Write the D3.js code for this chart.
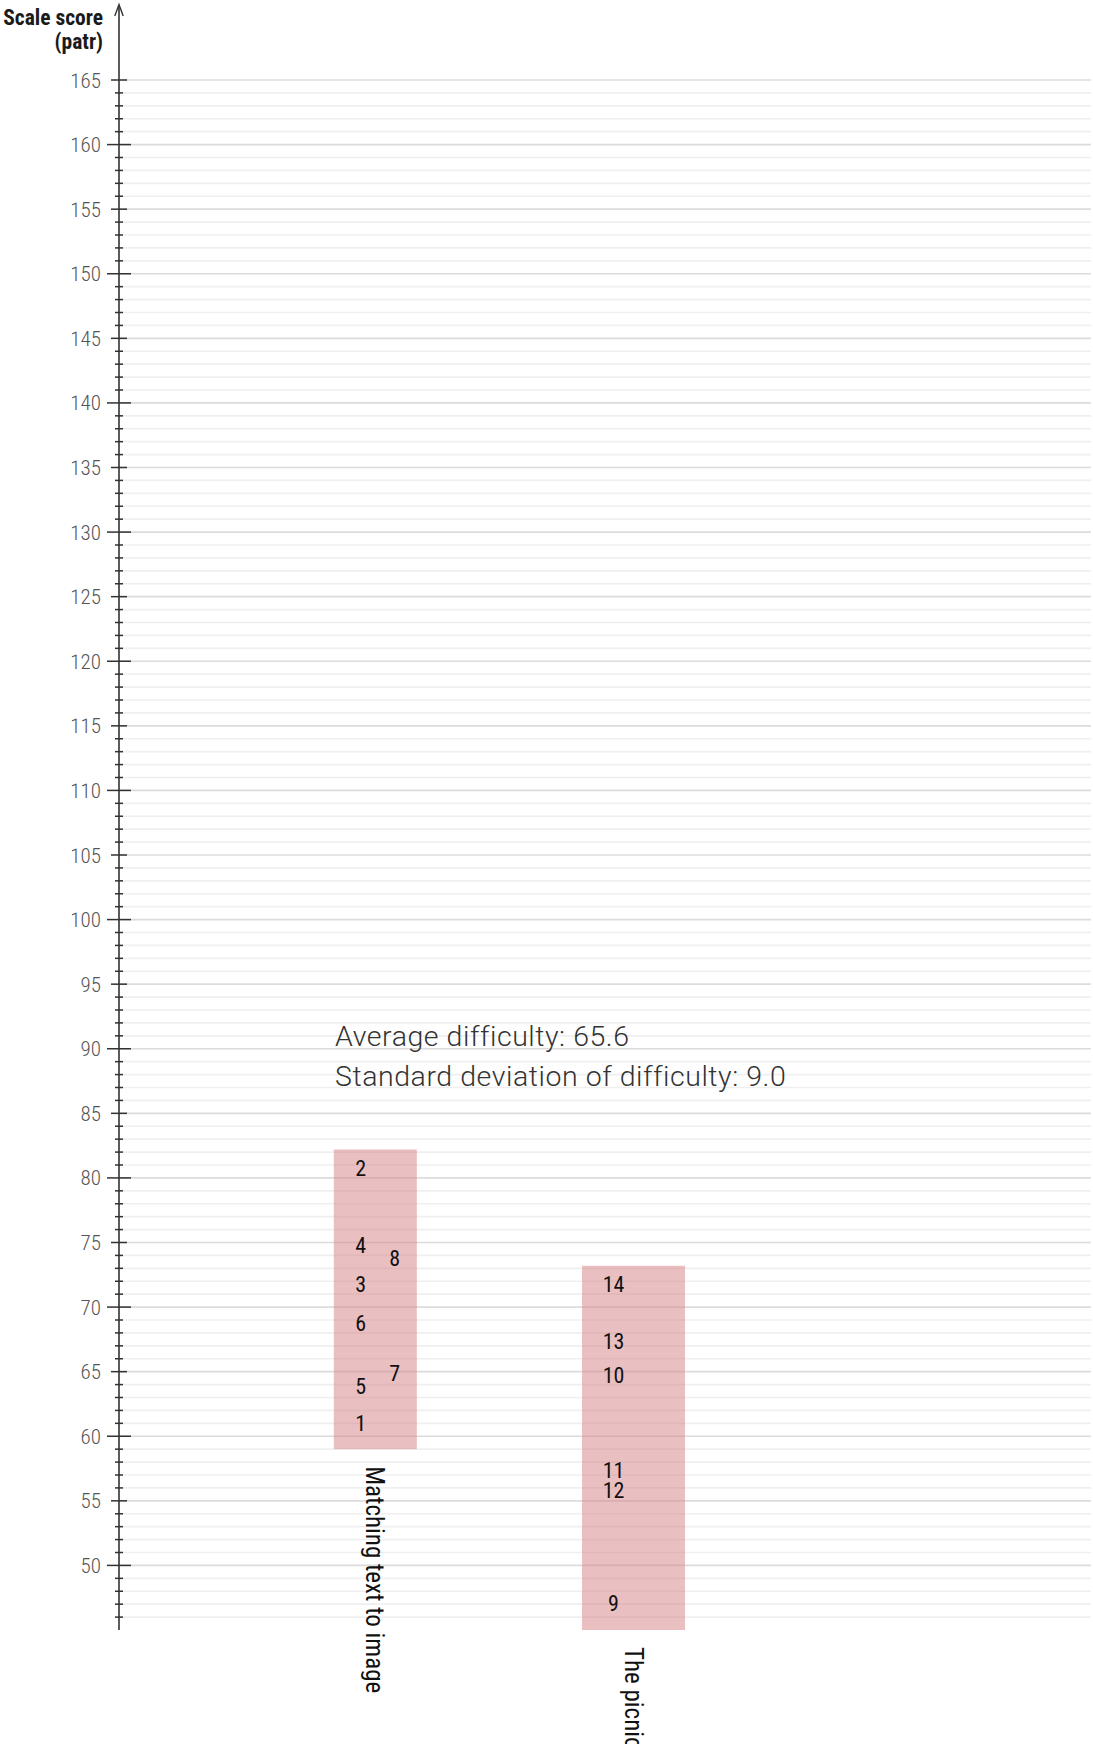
<!DOCTYPE html>
<html>
<head>
<meta charset="utf-8">
<script src="https://cdn.jsdelivr.net/npm/d3@7"></script>
<style>
  html, body { margin: 0; padding: 0; background: #fff; }
  svg { display: block; }
  .cond { font-family: "Liberation Sans Narrow", "Roboto Condensed", "DejaVu Sans Condensed", sans-serif; }
</style>
</head>
<body>
<svg id="chart" width="1093" height="1744"></svg>
<script>
// ---------------- data ----------------
const categories = ["Matching text to image", "The picnic"];
const barLow  = [59.0, 45.0];
const barHigh = [82.2, 73.2];

const itemIds      = [1, 2, 3, 4, 5, 6, 7, 8, 9, 10, 11, 12, 13, 14];
const itemValues   = [61.0, 80.8, 71.8, 74.8, 63.9, 68.8, 64.9, 73.8, 47.1, 64.7, 57.4, 55.8, 67.4, 71.8];
const itemCategory = [0, 0, 0, 0, 0, 0, 0, 0, 1, 1, 1, 1, 1, 1];
const itemColumn   = [0, 0, 0, 0, 0, 0, 1, 1, 0, 0, 0, 0, 0, 0];

const tickLabels = d3.range(50, 166, 5);
const axisTitle = ["Scale score", "(patr)"];
const annotation = ["Average difficulty: 65.6", "Standard deviation of difficulty: 9.0"];

// ---------------- layout ----------------
const W = 1093, H = 1744;
const axisX = 119, gridRight = 1091;
const svg = d3.select("#chart");

const y = d3.scaleLinear().domain([45, 165]).range([1630, 80]);
const xc = d3.scalePoint().domain(categories).range([375.3, 633.5]);
const barWidths = [83, 103];
const colPad = [27, 31.5];
const colStep = 34;

// gridlines
const gridVals = d3.range(46, 166);
svg.append("g").selectAll("line").data(gridVals).join("line")
  .attr("x1", axisX).attr("x2", gridRight)
  .attr("y1", d => y(d)).attr("y2", d => y(d))
  .attr("stroke", d => d % 5 === 0 ? "#dcdcdc" : "#efefef")
  .attr("stroke-width", 1.6);

// bars (semi-transparent so grid shows through)
svg.append("g").selectAll("rect").data(categories).join("rect")
  .attr("x", (d, i) => xc(d) - barWidths[i] / 2)
  .attr("width", (d, i) => barWidths[i])
  .attr("y", (d, i) => y(barHigh[i]))
  .attr("height", (d, i) => y(barLow[i]) - y(barHigh[i]))
  .attr("fill", "rgb(212,128,134)")
  .attr("fill-opacity", 0.5);

// axis with custom tick lengths
const axisG = svg.append("g");
axisG.append("line")
  .attr("x1", axisX).attr("x2", axisX)
  .attr("y1", y(45)).attr("y2", 5)
  .attr("stroke", "#333").attr("stroke-width", 1.6);
axisG.append("path")
  .attr("d", `M${axisX - 4.2},16 L${axisX},4.5 L${axisX + 4.2},16`)
  .attr("fill", "none").attr("stroke", "#333").attr("stroke-width", 1.4);
axisG.selectAll("line.tick").data(gridVals).join("line")
  .attr("class", "tick")
  .attr("x1", d => axisX - (d % 10 === 0 ? 12 : d % 5 === 0 ? 8 : 4))
  .attr("x2", d => axisX + (d % 10 === 0 ? 12 : d % 5 === 0 ? 8 : 4))
  .attr("y1", d => y(d)).attr("y2", d => y(d))
  .attr("stroke", "#333").attr("stroke-width", 1.5);

axisG.selectAll("text.tl").data(tickLabels).join("text")
  .attr("class", "tl cond")
  .attr("x", 101).attr("y", d => y(d))
  .attr("dy", "0.36em")
  .attr("text-anchor", "end")
  .attr("font-size", 21)
  .attr("font-weight", 300)
  .attr("fill", "#555")
  .text(d => d);

// axis title
svg.append("g").selectAll("text").data(axisTitle).join("text")
  .attr("class", "cond")
  .attr("x", 103).attr("y", (d, i) => 25 + i * 24)
  .attr("text-anchor", "end")
  .attr("font-size", 21.5)
  .attr("font-weight", "bold")
  .attr("fill", "#1a1a1a")
  .text(d => d);

// item labels
svg.append("g").selectAll("text").data(itemIds).join("text")
  .attr("class", "cond")
  .attr("x", (d, i) => {
    const c = itemCategory[i];
    return xc(categories[c]) - barWidths[c] / 2 + colPad[c] + itemColumn[i] * colStep;
  })
  .attr("y", (d, i) => y(itemValues[i]))
  .attr("dy", "0.36em")
  .attr("text-anchor", "middle")
  .attr("font-size", 22)
  .attr("fill", "#111")
  .text(d => d);

// category labels (rotated)
svg.append("g").selectAll("text").data(categories).join("text")
  .attr("class", "cond")
  .attr("transform", (d, i) => `translate(${xc(d)},${y(barLow[i]) + 17}) rotate(90)`)
  .attr("dy", "0.36em")
  .attr("text-anchor", "start")
  .attr("font-size", 25)
  .attr("fill", "#111")
  .text(d => d);

// annotation
svg.append("g").selectAll("text").data(annotation).join("text")
  .attr("x", 335).attr("y", (d, i) => 1046 + i * 40)
  .attr("font-family", "Roboto, 'Liberation Sans', sans-serif")
  .attr("font-weight", 300)
  .attr("font-size", 28.5)
  .attr("letter-spacing", "0.55px")
  .attr("fill", "#333")
  .text(d => d);
</script>
</body>
</html>
